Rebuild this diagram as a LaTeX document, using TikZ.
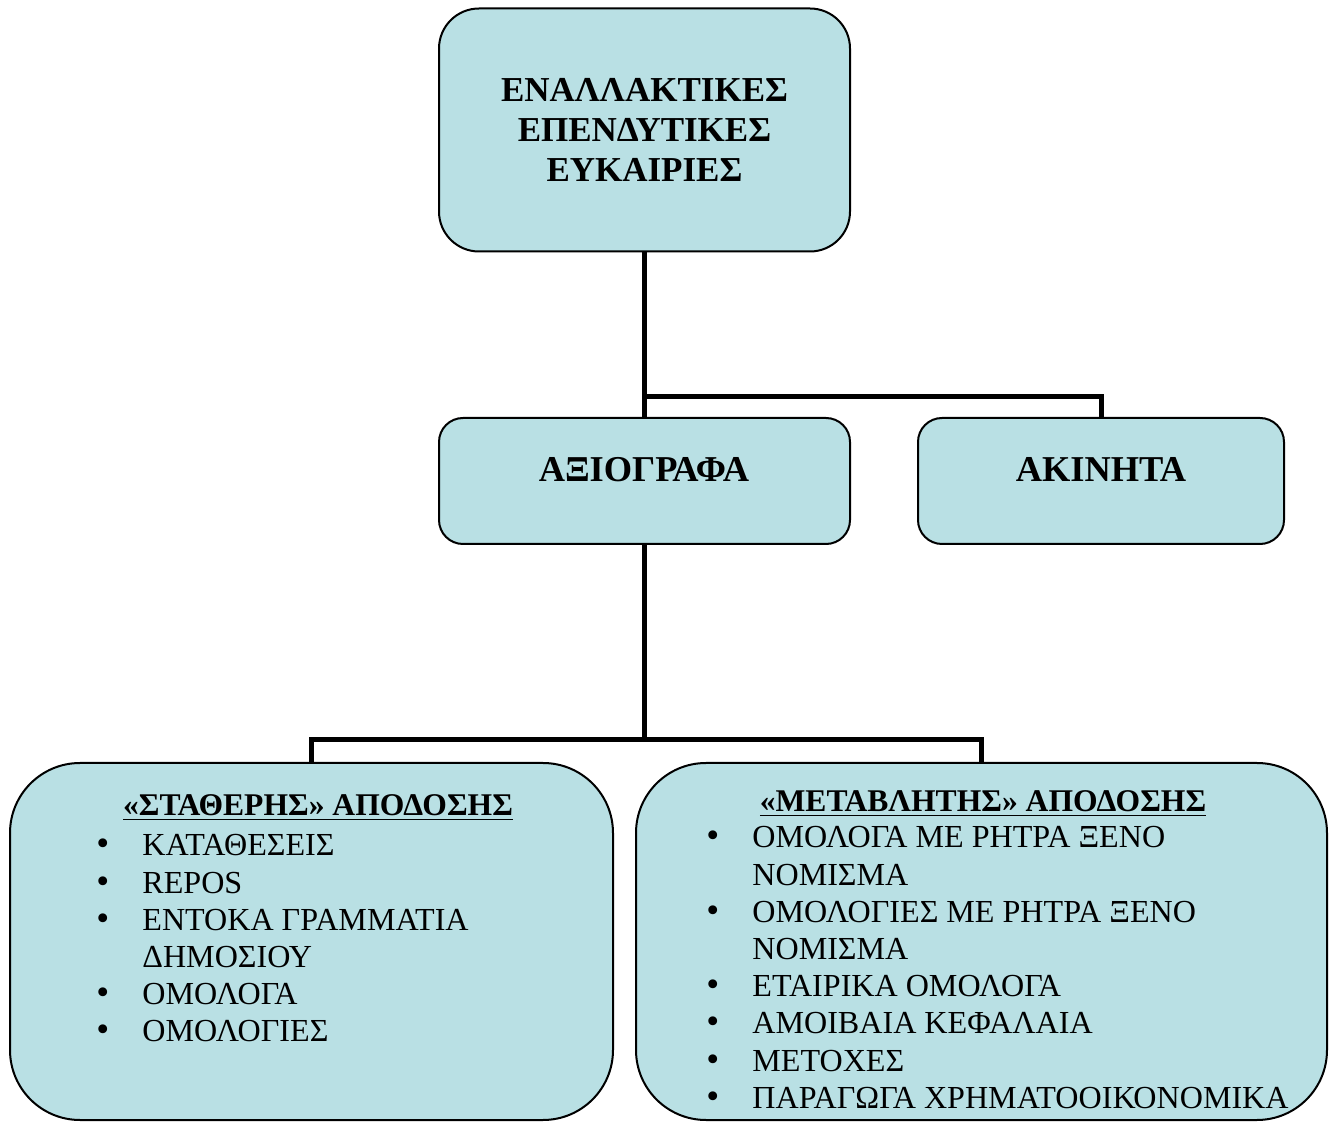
\documentclass[tikz,border=0pt]{standalone}
\usepackage{fontspec}
\setmainfont{Liberation Serif}
\usetikzlibrary{positioning}
\definecolor{boxblue}{RGB}{185,224,228}

\newcommand{\itm}[1]{\makebox[23pt][l]{\scalebox{1.15}{\textbullet}}#1}
\newcommand{\cnt}[1]{\hspace*{23pt}#1}

\begin{document}
\begin{tikzpicture}
  [x=0.5pt,y=-0.5pt,
   box/.style={draw,fill=boxblue,line width=1pt,inner sep=0pt},
   link/.style={line width=2.5pt},
   head/.style={inner sep=0pt,font=\fontsize{17.5}{20}\selectfont\bfseries},
   sub/.style={inner sep=0pt,anchor=base,font=\fontsize{15.8}{18}\selectfont\bfseries},
   lst/.style={inner sep=0pt,anchor=base west,font=\fontsize{16.05}{18.6}\selectfont}]
  \useasboundingbox (0,0) rectangle (1329,1122);

  \node[box,rounded corners=20pt,minimum width=205.5pt,minimum height=121.5pt,
        align=center,head] (top) at (644.5,130)
        {ΕΝΑΛΛΑΚΤΙΚΕΣ\\ΕΠΕΝΔΥΤΙΚΕΣ\\ΕΥΚΑΙΡΙΕΣ};
  \node[box,rounded corners=12pt,minimum width=205.5pt,minimum height=63pt] (axio) at (644.5,481) {};
  \node[box,rounded corners=12pt,minimum width=183pt,minimum height=63pt] (akin) at (1101,481) {};
  \node[box,rounded corners=35pt,minimum width=301.5pt,minimum height=178.5pt] (stath) at (311.5,941.5) {};
  \node[box,rounded corners=35pt,minimum width=345.5pt,minimum height=178.5pt] (metav) at (981.5,941.5) {};

  \node[head,anchor=base,font=\fontsize{18.2}{20}\selectfont\bfseries] (axiolbl) at (644,482) {ΑΞΙΟΓΡΑΦΑ};
  \node[head,anchor=base,font=\fontsize{18.2}{20}\selectfont\bfseries] (akinlbl) at (1101,482) {ΑΚΙΝΗΤΑ};

  \node[sub] (stathhd) at (318,816) {\underline{«ΣΤΑΘΕΡΗΣ» ΑΠΟΔΟΣΗΣ}};
  \node[sub] (metavhd) at (983,812) {\underline{«ΜΕΤΑΒΛΗΤΗΣ» ΑΠΟΔΟΣΗΣ}};

  \node[lst] (stathlst) at (96,856) {\parbox[t]{280pt}{\raggedright
        \itm{ΚΑΤΑΘΕΣΕΙΣ}\\
        \itm{REPOS}\\
        \itm{ΕΝΤΟΚΑ ΓΡΑΜΜΑΤΙΑ}\\
        \cnt{ΔΗΜΟΣΙΟΥ}\\
        \itm{ΟΜΟΛΟΓΑ}\\
        \itm{ΟΜΟΛΟΓΙΕΣ}}};
  \node[lst] (metavlst) at (706,848) {\parbox[t]{320pt}{\raggedright
        \itm{ΟΜΟΛΟΓΑ ΜΕ ΡΗΤΡΑ ΞΕΝΟ}\\
        \cnt{ΝΟΜΙΣΜΑ}\\
        \itm{ΟΜΟΛΟΓΙΕΣ ΜΕ ΡΗΤΡΑ ΞΕΝΟ}\\
        \cnt{ΝΟΜΙΣΜΑ}\\
        \itm{ΕΤΑΙΡΙΚΑ ΟΜΟΛΟΓΑ}\\
        \itm{ΑΜΟΙΒΑΙΑ ΚΕΦΑΛΑΙΑ}\\
        \itm{ΜΕΤΟΧΕΣ}\\
        \itm{ΠΑΡΑΓΩΓΑ ΧΡΗΜΑΤΟΟΙΚΟΝΟΜΙΚΑ}}};

  \coordinate (j1) at (644.5,397);
  \coordinate (j2) at (644.5,740);

  \foreach \from/\to in {top/axio,axio/j2}
    \draw[link] (\from) -- (\to);
  \draw[link] (j1) -| (akin.north);
  \draw[link] (stath.north) |- (j2) -| (metav.north);
\end{tikzpicture}
\end{document}
